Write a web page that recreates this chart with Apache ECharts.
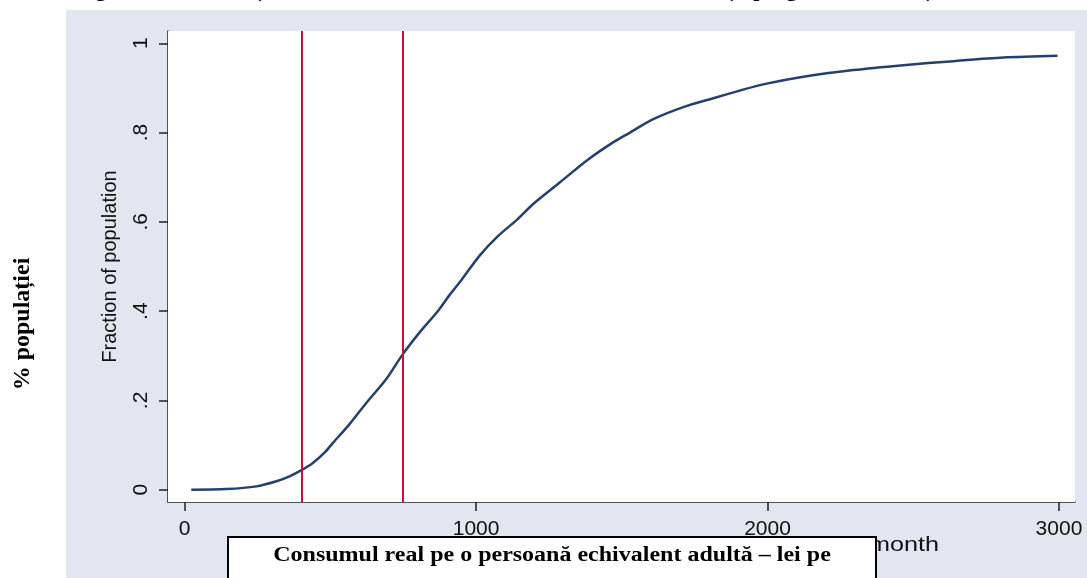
<!DOCTYPE html>
<html><head><meta charset="utf-8">
<script src="https://cdn.jsdelivr.net/npm/echarts@6/dist/echarts.min.js"></script>
<style>html,body{margin:0;padding:0;background:#fff;}#c{width:1087px;height:578px;}</style>
</head><body><div id="c"></div>
<script>
// ---- data ----
const consumption = [23, 143, 246, 315, 360, 404, 440, 480, 509, 566, 624, 692, 747, 807, 870, 910, 950, 1013, 1075, 1139, 1196, 1287, 1379, 1470, 1528, 1608, 1711, 1814, 1905, 1985, 2123, 2294, 2466, 2638, 2809, 2995];
const fraction    = [0, 0.0015, 0.0075, 0.019, 0.030, 0.045, 0.060, 0.083, 0.105, 0.147, 0.195, 0.248, 0.302, 0.353, 0.401, 0.437, 0.470, 0.525, 0.568, 0.604, 0.640, 0.688, 0.737, 0.778, 0.800, 0.830, 0.857, 0.877, 0.894, 0.908, 0.925, 0.940, 0.951, 0.960, 0.968, 0.972];
const povertyLines = [403, 748];
const xTicks = [0, 1000, 2000, 3000];
const yTicks = [0, 0.2, 0.4, 0.6, 0.8, 1];
const yTickLabels = ['0', '.2', '.4', '.6', '.8', '1'];
const yTitle = 'Fraction of population';
const xTitle = 'Real consumption per adult equivalent, lei per month';
const outerYTitle = '% populației';
const boxTitle = 'Consumul real pe o persoană echivalent adultă – lei pe';
const caption = 'Figura 12. Distribuția consumului, nivelul de trai al locuitorilor condiții pragurile sărăciei și';

const chart = echarts.init(document.getElementById('c'), null, {renderer: 'canvas'});
const sans = 'Liberation Sans, Arial, sans-serif';
const serif = 'Liberation Serif, Times New Roman, serif';
const axisColor = '#222';

chart.setOption({
  animation: false,
  backgroundColor: '#ffffff',
  grid: {left: 168, right: 12, top: 31, bottom: 76, show: true, backgroundColor: '#ffffff', borderWidth: 0, z: 1},
  xAxis: {
    type: 'value', min: -57, max: 3055,
    axisLine: {onZero: false, lineStyle: {color: axisColor, width: 1.5}},
    axisTick: {show: true, length: 9, customValues: xTicks, lineStyle: {color: axisColor, width: 1.5}},
    axisLabel: {customValues: xTicks, margin: 17, fontFamily: sans, fontSize: 21, color: '#111',
      formatter: v => String(Math.round(v))},
    splitLine: {show: false}
  },
  yAxis: {
    type: 'value', min: -0.0275, max: 1.0275,
    axisLine: {show: true, onZero: false, lineStyle: {color: axisColor, width: 1.5}},
    axisTick: {show: true, length: 9, customValues: yTicks, lineStyle: {color: axisColor, width: 1.5}},
    axisLabel: {customValues: yTicks, rotate: 90, margin: 16, fontFamily: sans, fontSize: 21, color: '#111',
      formatter: v => { const i = yTicks.findIndex(t => Math.abs(t - v) < 1e-6); return i >= 0 ? yTickLabels[i] : ''; }},
    splitLine: {show: true, lineStyle: {color: '#dde2ed', width: 2}},
    name: yTitle, nameLocation: 'middle', nameGap: 48,
    nameTextStyle: {fontFamily: sans, fontSize: 20, color: '#111'}
  },
  series: [{
    type: 'line',
    data: consumption.map((x, i) => [x, fraction[i]]),
    showSymbol: false, smooth: 0.3,
    lineStyle: {color: '#26406e', width: 2.5},
    z: 3,
    markLine: {
      silent: true, symbol: ['none', 'none'],
      label: {show: false},
      lineStyle: {color: '#c8103c', width: 2, type: 'solid'},
      data: povertyLines.map(v => ({xAxis: v}))
    }
  }],
  graphic: [
    {type: 'rect', z: -10, shape: {x: 66, y: 10, width: 1021, height: 568}, style: {fill: '#e1e6f0'}, silent: true},
    {type: 'text', z: 5, x: 76, y: -9.5, style: {text: caption, fontFamily: serif, fontWeight: 'bold', fontSize: 22, fill: '#000', align: 'left', verticalAlign: 'middle'}},
    {type: 'text', z: 5, x: 939, y: 545, scaleX: 1.2,
      style: {text: xTitle, fontFamily: sans, fontSize: 21, fill: '#111', align: 'right', verticalAlign: 'middle'}},
    {type: 'rect', z: 20, shape: {x: 228, y: 537, width: 648, height: 60}, style: {fill: '#ffffff', stroke: '#000', lineWidth: 2}},
    {type: 'text', z: 21, x: 552, y: 556, scaleX: 1.2, style: {text: boxTitle, fontFamily: serif, fontWeight: 'bold', fontSize: 20, fill: '#000', align: 'center', verticalAlign: 'middle'}},
    {type: 'text', z: 21, x: 23, y: 324, rotation: Math.PI / 2, style: {text: outerYTitle, fontFamily: serif, fontWeight: 'bold', fontSize: 24, fill: '#000', align: 'center', verticalAlign: 'middle'}}
  ]
});
</script>
</body></html>
